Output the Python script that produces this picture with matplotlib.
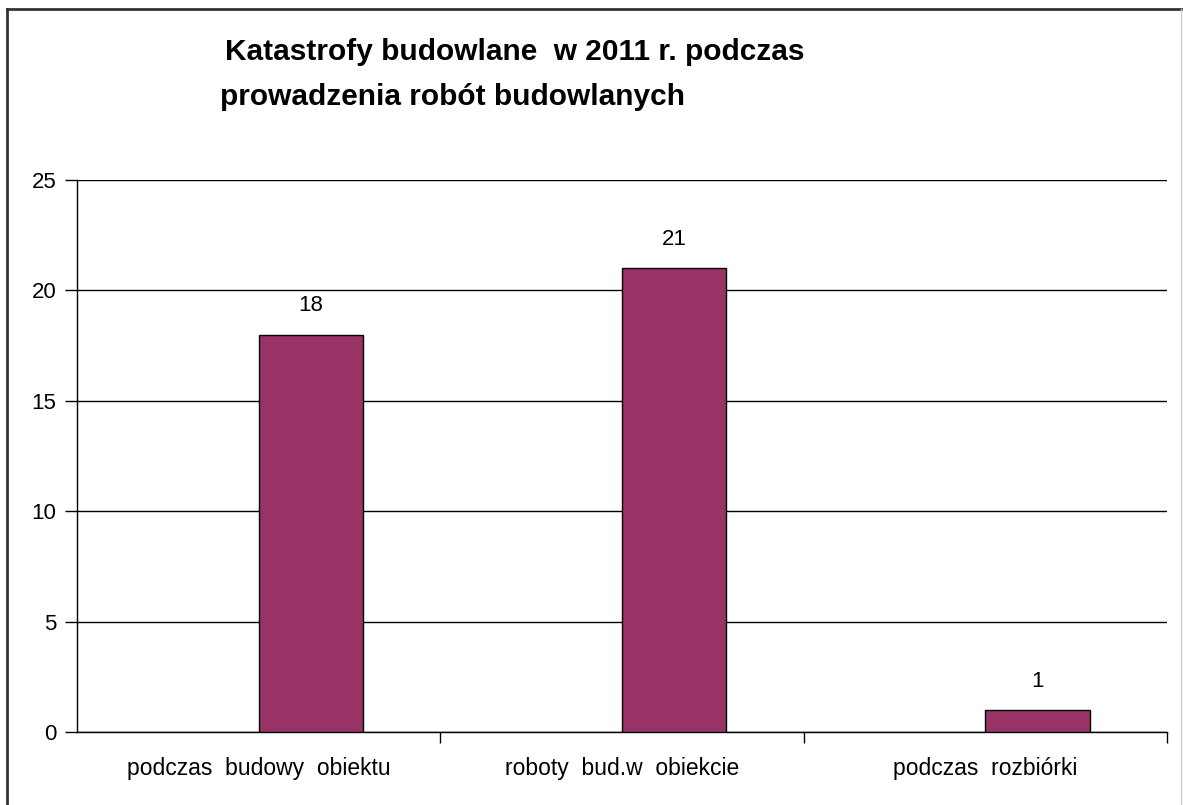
import matplotlib.pyplot as plt
from matplotlib.lines import Line2D

categories = ['podczas  budowy  obiektu', 'roboty  bud.w  obiekcie', 'podczas  rozbiórki']
values = [18, 21, 1]
yticks = [0, 5, 10, 15, 20, 25]
title_1 = 'Katastrofy budowlane  w 2011 r. podczas'
title_2 = 'prowadzenia robót budowlanych'

plt.rcParams['font.family'] = ['Liberation Sans', 'DejaVu Sans']

W, H = 1183, 805
fig = plt.figure(figsize=(W / 100, H / 100), dpi=100)

# frame around the chart (only top/left visible in the crop)
fig.add_artist(Line2D([7 / W, 1.0], [1 - 9 / H, 1 - 9 / H], color='#333333', lw=2))
fig.add_artist(Line2D([7 / W, 7 / W], [0, 1 - 9 / H], color='#333333', lw=2))
fig.add_artist(Line2D([1181 / W, 1181 / W], [0, 1 - 9 / H], color='#cccccc', lw=1))

ax = fig.add_axes([77 / W, 73 / H, (1167 - 77) / W, (732 - 180) / H])

x = list(range(len(categories)))
ax.bar(x, values, width=0.287, align='edge', color='#993366',
       edgecolor='black', linewidth=1, zorder=3)
for xi, v in zip(x, values):
    ax.text(xi + 0.1435, v + 1.3, str(v), ha='center', va='center', fontsize=16)

ax.set_xlim(-0.5, len(categories) - 0.5)
ax.set_ylim(0, 25)
ax.set_yticks(yticks)
ax.set_yticklabels([str(t) for t in yticks], fontsize=16)
ax.yaxis.grid(True, color='black', linewidth=1)
ax.set_axisbelow(True)

# category labels at centers, ticks at boundaries
ax.set_xticks(x)
ax.set_xticklabels(categories, fontsize=16.5)
ax.tick_params(axis='x', length=0, pad=18)
ax.set_xticks([i + 0.5 for i in range(len(categories))], minor=True)
ax.tick_params(axis='x', which='minor', length=8, width=1, color='black', direction='out')
ax.tick_params(axis='y', length=9, width=1, color='black', pad=6)

for s in ['top', 'right']:
    ax.spines[s].set_visible(False)
for s in ['left', 'bottom']:
    ax.spines[s].set_color('black')
    ax.spines[s].set_linewidth(1)

fig.text(225 / W, 1 - 52 / H, title_1, fontsize=21.5, fontweight='bold', ha='left', va='center')
fig.text(220 / W, 1 - 97 / H, title_2, fontsize=21.5, fontweight='bold', ha='left', va='center')

fig.savefig('out.png', dpi=100, facecolor='white')
